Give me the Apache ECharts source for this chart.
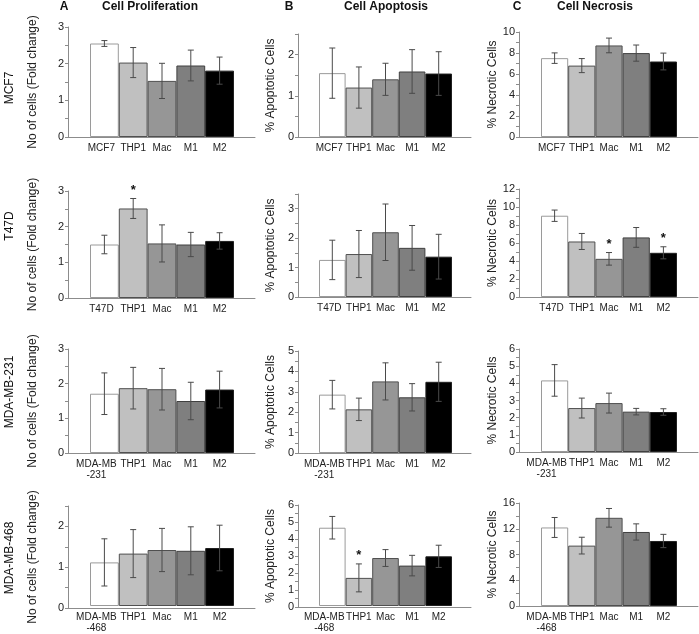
<!DOCTYPE html>
<html><head><meta charset="utf-8">
<script src="https://cdn.jsdelivr.net/npm/echarts@6/dist/echarts.min.js"></script>
<style>html,body{margin:0;padding:0;background:#fff}#c{width:699px;height:634px}</style>
</head><body><div id="c"></div>
<script>
// ---------- data ----------
const cellLines = ['MCF7', 'T47D', 'MDA-MB-231', 'MDA-MB-468'];
const firstLabels = ['MCF7', 'T47D', 'MDA-MB\n-231', 'MDA-MB\n-468'];
const groups = ['THP1', 'Mac', 'M1', 'M2'];
const panelTitles = ['Cell Proliferation', 'Cell Apoptosis', 'Cell Necrosis'];
const panelLetters = ['A', 'B', 'C'];
const yNames = ['No of cells (Fold change)', '% Apoptotic Cells', '% Necrotic Cells'];

const prolifMean = [[2.55, 2.03, 1.53, 1.95, 1.81], [1.50, 2.51, 1.53, 1.50, 1.60], [1.71, 1.87, 1.84, 1.50, 1.83], [1.09, 1.31, 1.40, 1.38, 1.45]];
const prolifErr  = [[0.08, 0.41, 0.48, 0.42, 0.37], [0.26, 0.28, 0.52, 0.34, 0.23], [0.60, 0.60, 0.60, 0.54, 0.53], [0.59, 0.60, 0.54, 0.60, 0.57]];
const prolifSig  = [[0, 0, 0, 0, 0], [0, 1, 0, 0, 0], [0, 0, 0, 0, 0], [0, 0, 0, 0, 0]];

const apopMean = [[1.55, 1.20, 1.40, 1.59, 1.54], [1.26, 1.46, 2.20, 1.67, 1.37], [2.86, 2.14, 3.51, 2.73, 3.49], [4.65, 1.67, 2.85, 2.40, 2.95]];
const apopErr  = [[0.61, 0.50, 0.39, 0.53, 0.53], [0.67, 0.80, 0.96, 0.76, 0.76], [0.70, 0.55, 0.91, 0.67, 0.96], [0.67, 0.83, 0.50, 0.61, 0.66]];
const apopSig  = [[0, 0, 0, 0, 0], [0, 0, 0, 0, 0], [0, 0, 0, 0, 0], [0, 1, 0, 0, 0]];

const necMean = [[7.51, 6.80, 8.72, 7.99, 7.19], [9.03, 6.17, 4.24, 6.62, 4.91], [4.17, 2.56, 2.85, 2.35, 2.33], [12.2, 9.38, 13.7, 11.5, 10.1]];
const necErr  = [[0.50, 0.67, 0.70, 0.77, 0.80], [0.63, 0.89, 0.70, 1.10, 0.67], [0.92, 0.58, 0.58, 0.19, 0.19], [1.55, 1.30, 1.45, 1.26, 1.03]];
const necSig  = [[0, 0, 0, 0, 0], [0, 0, 1, 0, 1], [0, 0, 0, 0, 0], [0, 0, 0, 0, 0]];

// y-axis: max, label step, tick step  [row][col]
const yMax       = [[3, 2.5, 10], [3, 3.5, 12], [3, 5, 6], [2.5, 6, 16]];
const yLabelStep = [[1, 1, 2], [1, 1, 2], [1, 1, 1], [1, 1, 4]];
const yTickStep  = [[0.5, 0.5, 1], [0.5, 0.5, 1], [0.5, 0.5, 0.5], [0.5, 0.5, 2]];

// ---------- layout ----------
const colX = [
  { axis: 68, barL: 90, barR: 234, end: 255, gap: 29 },
  { axis: 298, barL: 319, barR: 452, end: 471, gap: 21 },
  { axis: 519, barL: 541, barR: 677, end: 698, gap: 20 }
];
const rowY = [
  [[27, 137], [34, 137], [32, 137]],
  [[191, 298], [194, 297], [189, 297]],
  [[349, 453], [351, 453], [349, 452]],
  [[506, 608], [505, 607], [503, 606]]
];
const rowLabelY = [88, 226, 392, 558];
const fills = ['#ffffff', '#c0c0c0', '#969696', '#7f7f7f', '#000000'];
const borders = ['#9a9a9a', '#505050', '#505050', '#404040', '#202020'];

const means = [prolifMean, apopMean, necMean];
const errs = [prolifErr, apopErr, necErr];
const sigs = [prolifSig, apopSig, necSig];

const grids = [], xAxes = [], yAxes = [], series = [];
for (let r = 0; r < 4; r++) {
  for (let c = 0; c < 3; c++) {
    const cx = colX[c], ry = rowY[r][c];
    const top = ry[0], height = ry[1] - ry[0];
    const max = yMax[r][c], ls = yLabelStep[r][c], ts = yTickStep[r][c];
    // axis grid
    const ga = grids.length;
    grids.push({ left: cx.axis, top: top, width: cx.end - cx.axis, height: height });
    xAxes.push({ gridIndex: ga, type: 'value', min: 0, max: 1, axisLine: { show: true, lineStyle: { color: '#8c8c8c', width: 1 } }, axisTick: { show: false }, axisLabel: { show: false }, splitLine: { show: false } });
    yAxes.push({
      gridIndex: ga, type: 'value', min: 0, max: max, interval: ts,
      name: yNames[c], nameLocation: 'middle', nameGap: cx.gap,
      nameTextStyle: { fontSize: 12, color: '#222', fontFamily: 'Liberation Sans' },
      axisLine: { show: true, lineStyle: { color: '#8c8c8c', width: 1 } },
      axisTick: { show: true, length: 3, lineStyle: { color: '#8c8c8c' } },
      axisLabel: { fontSize: 11, color: '#222', margin: 4, fontFamily: 'Liberation Sans',
        formatter: v => (Math.abs(v / ls - Math.round(v / ls)) < 1e-6 ? String(v) : '') },
      splitLine: { show: false }
    });
    // bar grid
    const gb = grids.length;
    grids.push({ left: cx.barL, top: top, width: cx.barR - cx.barL, height: height });
    const first = { value: firstLabels[r], textStyle: { padding: [0, r >= 2 ? 16 : 6, 0, 0] } };
    const cats = [first].concat(groups);
    xAxes.push({ gridIndex: gb, type: 'category', data: cats, axisLine: { show: false }, axisTick: { show: false },
      axisLabel: { interval: 0, fontSize: 10, color: '#222', margin: 6, lineHeight: 11, fontFamily: 'Liberation Sans', hideOverlap: false } });
    yAxes.push({ gridIndex: gb, type: 'value', min: 0, max: max, show: false });
    const m = means[c][r], e = errs[c][r], s = sigs[c][r];
    series.push({
      type: 'bar', xAxisIndex: xAxes.length - 1, yAxisIndex: yAxes.length - 1,
      barCategoryGap: '0%', silent: true, animation: false, z: 2,
      data: m.map((v, i) => ({ value: v, itemStyle: { color: fills[i], borderColor: borders[i], borderWidth: 1 } }))
    });
    series.push({
      type: 'custom', xAxisIndex: xAxes.length - 1, yAxisIndex: yAxes.length - 1, silent: true, animation: false, z: 10,
      data: m.map((v, i) => [i, v - e[i], v + e[i], s[i]]),
      renderItem: (params, api) => {
        const x = api.value(0);
        const lo = api.coord([x, api.value(1)]);
        const hi = api.coord([x, api.value(2)]);
        const cap = 3;
        const st = { stroke: '#4a4a4a', lineWidth: 1 };
        const children = [
          { type: 'line', shape: { x1: lo[0], y1: lo[1], x2: hi[0], y2: hi[1] }, style: st },
          { type: 'line', shape: { x1: lo[0] - cap, y1: lo[1], x2: lo[0] + cap, y2: lo[1] }, style: st },
          { type: 'line', shape: { x1: hi[0] - cap, y1: hi[1], x2: hi[0] + cap, y2: hi[1] }, style: st }
        ];
        if (api.value(3)) {
          children.push({ type: 'text', style: { x: hi[0], y: hi[1] - 2, text: '*', fill: '#111', font: 'bold 13px Liberation Sans', textAlign: 'center', textVerticalAlign: 'bottom' } });
        }
        return { type: 'group', children: children };
      }
    });
  }
}

const graphic = [];
const titleCenters = [150, 386, 595];
const letterX = [64, 289, 517];
for (let c = 0; c < 3; c++) {
  graphic.push({ type: 'text', x: letterX[c], y: 7, style: { text: panelLetters[c], font: 'bold 12px Liberation Sans', fill: '#111', textAlign: 'center', textVerticalAlign: 'middle' } });
  graphic.push({ type: 'text', x: titleCenters[c], y: 7, style: { text: panelTitles[c], font: 'bold 12px Liberation Sans', fill: '#111', textAlign: 'center', textVerticalAlign: 'middle' } });
}
for (let r = 0; r < 4; r++) {
  graphic.push({ type: 'text', x: 10, y: rowLabelY[r], rotation: Math.PI / 2, style: { text: cellLines[r], font: '12px Liberation Sans', fill: '#111', textAlign: 'center', textVerticalAlign: 'middle' } });
}

const chart = echarts.init(document.getElementById('c'), null, { renderer: 'canvas' });
chart.setOption({ animation: false, grid: grids, xAxis: xAxes, yAxis: yAxes, series: series, graphic: graphic });
</script></body></html>
